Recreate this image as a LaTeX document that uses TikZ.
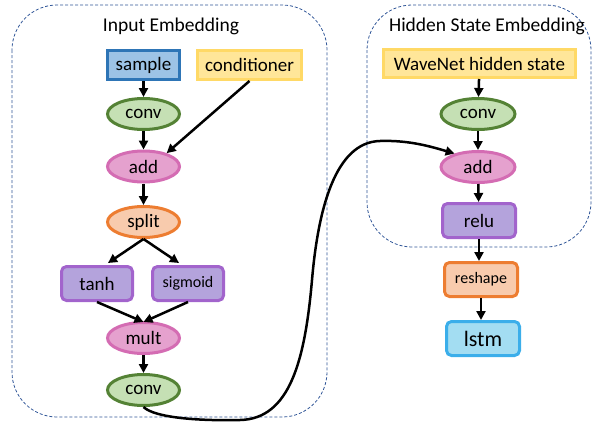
\documentclass[tikz,border=0pt]{standalone}
\usepackage{fontspec}
\setmainfont{Carlito}
\usetikzlibrary{shapes.geometric,arrows.meta,calc}
\definecolor{blueF}{HTML}{9DC3E6}
\definecolor{blueD}{HTML}{2E75B6}
\definecolor{yelF}{HTML}{FFE699}
\definecolor{yelD}{HTML}{FFD966}
\definecolor{grnF}{HTML}{C5E0B4}
\definecolor{grnD}{HTML}{548235}
\definecolor{pnkF}{HTML}{E5A1CE}
\definecolor{pnkD}{HTML}{D46CB3}
\definecolor{orgF}{HTML}{F8CBAD}
\definecolor{orgD}{HTML}{ED7D31}
\definecolor{purF}{HTML}{B4A3DC}
\definecolor{purD}{HTML}{A264CC}
\definecolor{cyaF}{HTML}{A3DDF2}
\definecolor{cyaD}{HTML}{3BAEEA}
\definecolor{dashC}{HTML}{2F5597}
\tikzset{
  base/.style={line width=3pt, inner sep=0pt, font=\fontsize{19}{19}\selectfont},
  ell/.style={base, ellipse, minimum width=72pt, minimum height=31pt},
  rbox/.style={base, rectangle, rounded corners=5pt, minimum height=34pt},
  sbox/.style={base, rectangle, minimum height=29pt},
  conv/.style={ell, fill=grnF, draw=grnD},
  addn/.style={ell, fill=pnkF, draw=pnkD},
  splitn/.style={ell, fill=orgF, draw=orgD},
  act/.style={rbox, fill=purF, draw=purD, minimum width=71pt},
  arr/.style={line width=2.5pt, -{Triangle[length=9pt,width=9pt]}},
  grp/.style={draw=dashC, line width=0.8pt, dash pattern=on 3pt off 2pt, rounded corners=45pt},
  ttl/.style={font=\fontsize{19.5}{19.5}\selectfont, inner sep=0pt}
}
\begin{document}
\begin{tikzpicture}[x=1pt,y=-1pt]
\useasboundingbox (0,0) rectangle (592,423);
\draw[grp] (12,5) rectangle (327,417);
\draw[grp] (367,5) rectangle (591,247);
\node[ttl] (t1) at (171,26) {Input Embedding};
\node[ttl] (t2) at (487,26) {Hidden State Embedding};

\node[sbox, fill=blueF, draw=blueD, minimum width=72pt] (sample) at (143.5,65) {sample};
\node[sbox, fill=yelF, draw=yelD, minimum width=104pt] (cond) at (249.5,65) {conditioner};
\node[conv] (conv1) at (143.5,114) {conv};
\node[addn] (add1) at (143.5,166.5) {add};
\node[splitn] (split) at (143.5,222) {split};
\node[act] (tanh) at (97,283.5) {tanh};
\node[act, font=\fontsize{16}{16}\selectfont] (sigm) at (188,283.5) {sigmoid};
\node[addn] (mult) at (143.5,338) {mult};
\node[conv] (conv2) at (143.5,390) {conv};

\node[sbox, fill=yelF, draw=yelD, minimum width=192pt, minimum height=28pt] (wave) at (479.5,63.5) {WaveNet hidden state};
\node[conv, minimum width=74pt] (conv3) at (478,114) {conv};
\node[addn, minimum width=74pt] (add2) at (478,167) {add};
\node[act, minimum width=73pt] (relu) at (479,220.5) {relu};
\node[rbox, fill=orgF, draw=orgD, minimum width=73pt, font=\fontsize{16}{16}\selectfont] (resh) at (481,279.5) {reshape};
\node[rbox, fill=cyaF, draw=cyaD, minimum width=73pt, font=\fontsize{22}{22}\selectfont] (lstm) at (483,338.5) {lstm};

\coordinate (tanhIn) at ($(tanh.north)+(11,-2)$);
\coordinate (sigmIn) at ($(sigm.north)+(-9,-2)$);
\coordinate (multIn) at ($(mult.north)+(0,1)$);

\draw[arr] (sample) -- (conv1);
\draw[arr] (conv1) -- (add1);
\draw[arr] (cond.south) -- (add1.30);
\draw[arr] (add1) -- (split);
\draw[arr] (split.south) -- (tanhIn);
\draw[arr] (split.south) -- (sigmIn);
\draw[arr] (tanh.south) -- (multIn);
\draw[arr] (sigm.south) -- (multIn);
\draw[arr] (mult) -- (conv2);

\draw[arr] (wave) -- (conv3);
\draw[arr] (conv3) -- (add2);
\draw[arr] (add2) -- (relu);
\draw[arr] (relu.south) -- (relu.south |- resh.north);
\draw[arr] (resh.south) -- (resh.south |- lstm.north);

\draw[arr] (conv2.south) .. controls (155,418) and (200,421) .. (240,420)
  .. controls (290,419) and (305,360) .. (312,280)
  .. controls (318,210) and (335,142) .. (380,141)
  .. controls (410,140) and (432,147) .. (add2.150);
\end{tikzpicture}
\end{document}
